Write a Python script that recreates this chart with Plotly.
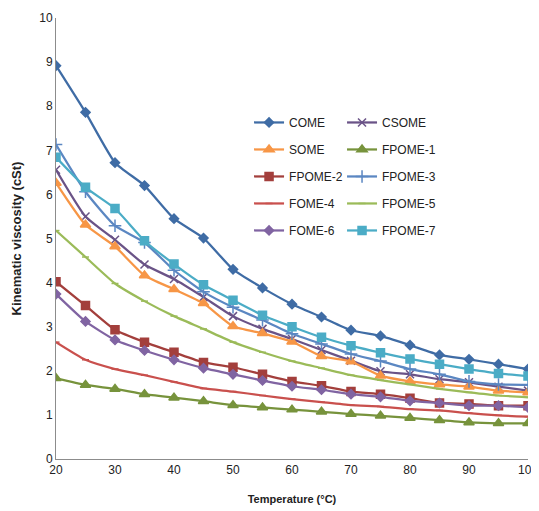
import plotly.graph_objects as go

temperature = [20, 25, 30, 35, 40, 45, 50, 55, 60, 65, 70, 75, 80, 85, 90, 95, 100]

COME    = [8.92, 7.86, 6.72, 6.20, 5.45, 5.01, 4.30, 3.88, 3.51, 3.22, 2.92, 2.79, 2.58, 2.36, 2.26, 2.15, 2.04]
CSOME   = [6.56, 5.50, 4.97, 4.41, 4.08, 3.67, 3.24, 2.95, 2.72, 2.47, 2.23, 1.99, 1.92, 1.81, 1.74, 1.64, 1.55]
SOME    = [6.26, 5.31, 4.82, 4.16, 3.85, 3.53, 3.01, 2.85, 2.66, 2.33, 2.21, 1.89, 1.76, 1.69, 1.64, 1.55, 1.51]
FPOME_1 = [1.83, 1.68, 1.59, 1.47, 1.39, 1.31, 1.22, 1.17, 1.12, 1.07, 1.02, 0.98, 0.93, 0.88, 0.83, 0.81, 0.81]
FPOME_2 = [4.02, 3.48, 2.93, 2.65, 2.42, 2.19, 2.08, 1.92, 1.76, 1.66, 1.53, 1.47, 1.38, 1.27, 1.25, 1.21, 1.21]
FPOME_3 = [7.13, 6.06, 5.29, 4.91, 4.28, 3.79, 3.44, 3.15, 2.84, 2.61, 2.38, 2.22, 2.04, 1.92, 1.76, 1.69, 1.68]
FOME_4  = [2.65, 2.25, 2.04, 1.90, 1.75, 1.60, 1.53, 1.44, 1.36, 1.29, 1.22, 1.19, 1.13, 1.10, 1.04, 0.99, 0.96]
FPOME_5 = [5.18, 4.58, 3.98, 3.58, 3.24, 2.95, 2.65, 2.42, 2.22, 2.06, 1.90, 1.79, 1.69, 1.59, 1.51, 1.44, 1.40]
FOME_6  = [3.74, 3.12, 2.70, 2.46, 2.25, 2.06, 1.92, 1.78, 1.65, 1.57, 1.47, 1.41, 1.32, 1.27, 1.21, 1.21, 1.17]
FPOME_7 = [6.84, 6.16, 5.68, 4.95, 4.42, 3.95, 3.60, 3.26, 3.00, 2.76, 2.57, 2.41, 2.27, 2.15, 2.04, 1.94, 1.88]

x_ticks = [20, 30, 40, 50, 60, 70, 80, 90, 100]
y_ticks = list(range(0, 11))

series = [
    # name, data, color, symbol, size, legend
    ("COME", COME, "#3F6CA5", "diamond", 7, "legend"),
    ("CSOME", CSOME, "#6A5387", "x-thin", 8, "legend2"),
    ("SOME", SOME, "#F79646", "triangle-up", 9, "legend"),
    ("FPOME-1", FPOME_1, "#77933C", "triangle-up", 9, "legend2"),
    ("FPOME-2", FPOME_2, "#A33F3C", "square", 8, "legend"),
    ("FPOME-3", FPOME_3, "#5B87C2", "cross-thin", 9, "legend2"),
    ("FOME-4", FOME_4, "#C9504D", "line-ew", 5, "legend"),
    ("FPOME-5", FPOME_5, "#9BBB59", "line-ew", 5, "legend2"),
    ("FOME-6", FOME_6, "#8064A2", "diamond", 7, "legend"),
    ("FPOME-7", FPOME_7, "#4BACC6", "square", 8, "legend2"),
]

fig = go.Figure()
for i, (name, data, color, symbol, size, leg) in enumerate(series):
    fig.add_trace(go.Scatter(
        x=temperature, y=data, name=name, mode="lines+markers",
        line=dict(color=color, width=2.25, shape="spline", smoothing=0.5),
        marker=dict(symbol=symbol, size=size, color=color,
                    line=dict(color=color, width=1.5)),
        legend=leg, legendgroup=name,
    ))

legend_common = dict(
    font=dict(family="Liberation Sans, Arial, sans-serif", size=12, color="#222222"),
    bgcolor="rgba(0,0,0,0)", tracegroupgap=8, itemwidth=30,
    yanchor="top", xanchor="left", y=0.796,
)

fig.update_layout(
    width=531, height=503,
    margin=dict(l=48, r=11, t=10, b=52, autoexpand=False),
    paper_bgcolor="white", plot_bgcolor="white",
    font=dict(family="Liberation Sans, Arial, sans-serif", size=12, color="#222222"),
    legend=dict(x=0.409, **legend_common),
    legend2=dict(x=0.606, **legend_common),
    xaxis=dict(
        range=[20, 100], tickvals=x_ticks, ticktext=[str(v) for v in x_ticks],
        showgrid=False, zeroline=False, showline=True, linecolor="#8C8C8C", linewidth=1,
        ticks="", tickfont=dict(size=12), automargin=False,
        title=dict(text="<b>Temperature (°C)</b>", font=dict(size=11), standoff=18),
    ),
    yaxis=dict(
        range=[0, 10], tickvals=y_ticks,
        showgrid=False, zeroline=False, showline=True, linecolor="#8C8C8C", linewidth=1,
        ticks="", tickfont=dict(size=12), automargin=False,
        title=dict(text="<b>Kinematic viscosity (cSt)</b>", font=dict(size=13), standoff=14),
    ),
    showlegend=True,
)

fig.write_html("out.html")
